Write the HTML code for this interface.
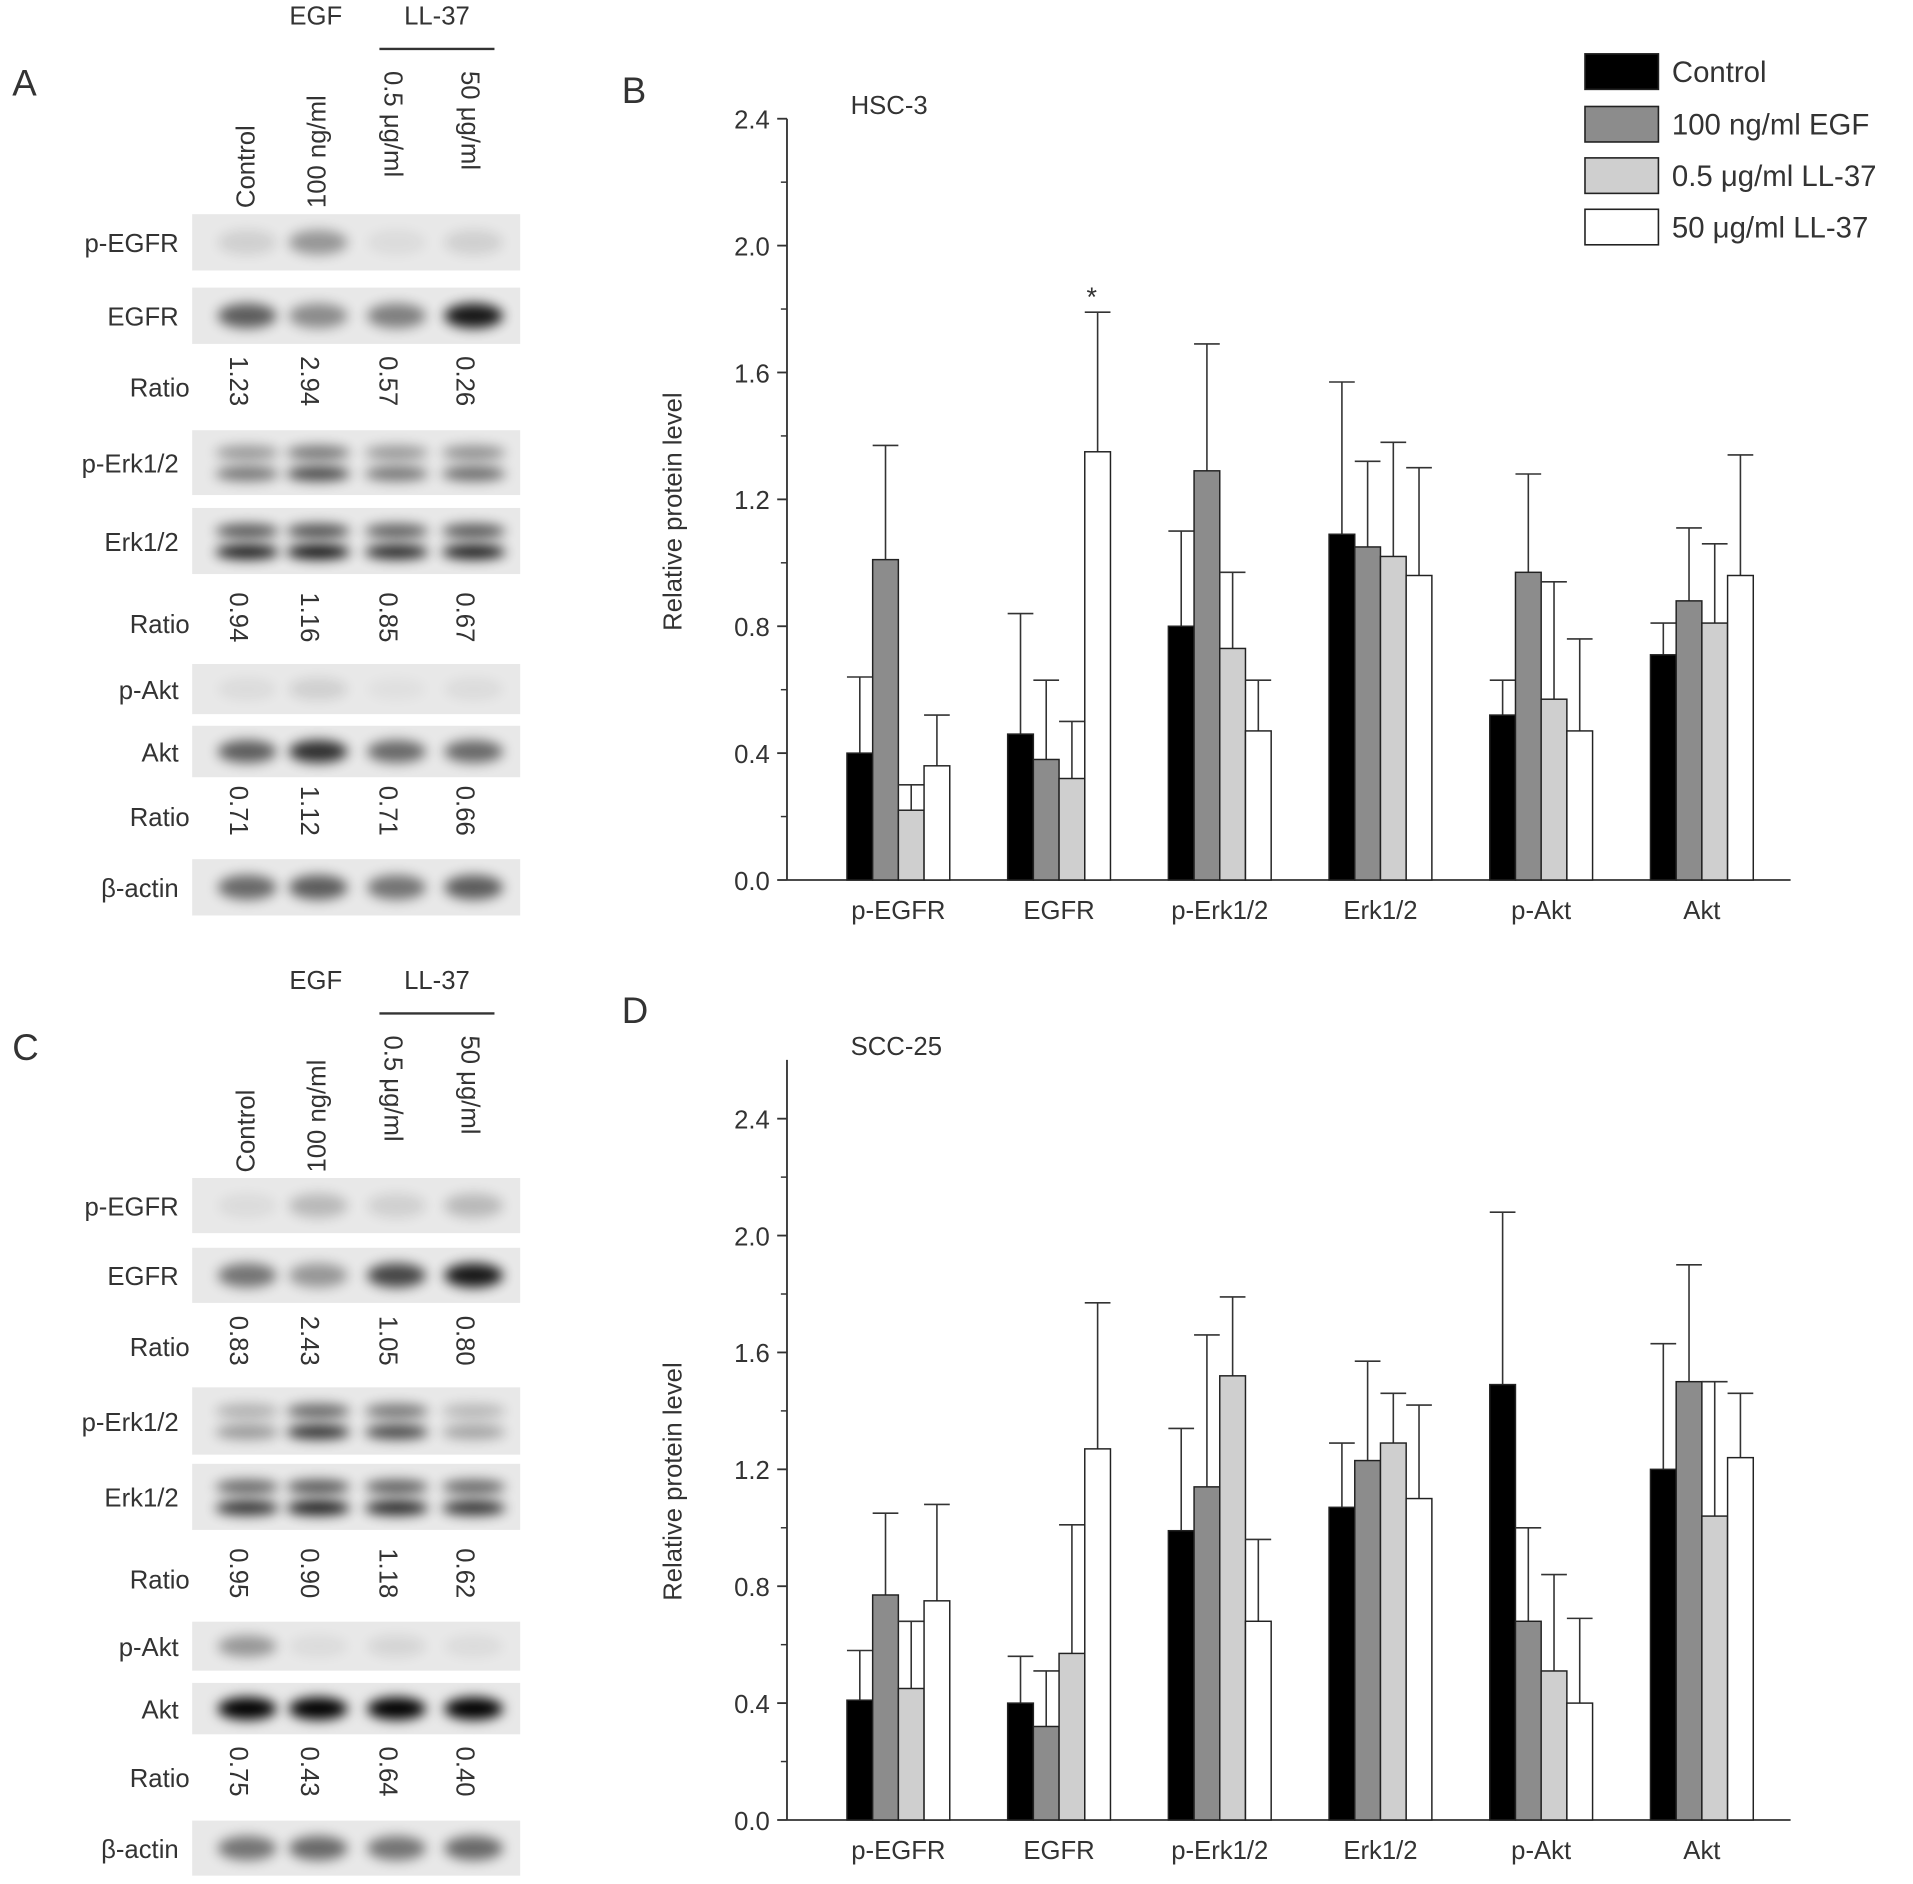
<!DOCTYPE html>
<html><head><meta charset="utf-8"><style>
html,body{margin:0;padding:0;background:#fff}
svg{display:block}
text{font-family:"Liberation Sans",sans-serif;fill:#333}
</style></head><body>
<svg id="fig" width="1913" height="1884" viewBox="0 0 1563 1539.3" preserveAspectRatio="none" xmlns="http://www.w3.org/2000/svg">
<defs><filter id="bl" x="-50%" y="-100%" width="200%" height="300%"><feGaussianBlur stdDeviation="5"/></filter></defs>
<g id="blots"></g>
<g id="chartB"></g>
<g id="chartD"></g>
<g id="legend"></g>
</svg>
<script>
const NS="http://www.w3.org/2000/svg";
const categories=["p-EGFR","EGFR","p-Erk1/2","Erk1/2","p-Akt","Akt"];
const seriesNames=["Control","100 ng/ml EGF","0.5 μg/ml LL-37","50 μg/ml LL-37"];
const seriesFill=["#000","#8c8c8c","#cfcfcf","#fff"];
const yTicks=[0.0,0.4,0.8,1.2,1.6,2.0,2.4];
// HSC-3 values
const hscControl=[0.40,0.46,0.80,1.09,0.52,0.71];
const hscEGF=[1.01,0.38,1.29,1.05,0.97,0.88];
const hscLL05=[0.22,0.32,0.73,1.02,0.57,0.81];
const hscLL50=[0.36,1.35,0.47,0.96,0.47,0.96];
const hscErrControl=[0.64,0.84,1.10,1.57,0.63,0.81];
const hscErrEGF=[1.37,0.63,1.69,1.32,1.28,1.11];
const hscErrLL05=[0.30,0.50,0.97,1.38,0.94,1.06];
const hscErrLL50=[0.52,1.79,0.63,1.30,0.76,1.34];
// SCC-25
const sccControl=[0.41,0.40,0.99,1.07,1.49,1.20];
const sccEGF=[0.77,0.32,1.14,1.23,0.68,1.50];
const sccLL05=[0.45,0.57,1.52,1.29,0.51,1.04];
const sccLL50=[0.75,1.27,0.68,1.10,0.40,1.24];
const sccErrControl=[0.58,0.56,1.34,1.29,2.08,1.63];
const sccErrEGF=[1.05,0.51,1.66,1.57,1.00,1.90];
const sccErrLL05=[0.68,1.01,1.79,1.46,0.84,1.50];
const sccErrLL50=[1.08,1.77,0.96,1.42,0.69,1.46];
// Blot ratios
const ratiosA=[["1.23","2.94","0.57","0.26"],["0.94","1.16","0.85","0.67"],["0.71","1.12","0.71","0.66"]];
const ratiosC=[["0.83","2.43","1.05","0.80"],["0.95","0.90","1.18","0.62"],["0.75","0.43","0.64","0.40"]];

function el(tag,attrs,parent,txt){const e=document.createElementNS(NS,tag);for(const k in attrs)e.setAttribute(k,attrs[k]);if(txt!==undefined)e.textContent=txt;parent.appendChild(e);return e;}

function chart(gid,title,y0,yTop,axisTop,vals,errs,letter,letterY,titleY){
  const g=document.getElementById(gid);
  
  
  const x0=643,x1=1463;
  const yS=v=>y0-(v/2.4)*(y0-yTop);
  const gx=i=>692+i*131.3;
  el('text',{x:508,y:letterY,'font-size':30,fill:'#222',},g,letter);
  el('text',{x:695,y:titleY,'font-size':21,},g,title);
  const yt=el('text',{x:0,y:0,'font-size':21,'text-anchor':'middle',transform:`translate(557,${(y0+yTop)/2+10}) rotate(-90)`},g,'Relative protein level');
  
  
  for(const t of yTicks){
    const y=yS(t);
    el('line',{x1:x0-8,x2:x0,y1:y,y2:y,stroke:'#333','stroke-width':1.5},g);
    const tl=el('text',{x:x0-14,y:y+8,'font-size':21,'text-anchor':'end'},g,t.toFixed(1));
    
    
    if(t<2.4){const ym=yS(t+0.2);el('line',{x1:x0-5,x2:x0,y1:ym,y2:ym,stroke:'#333','stroke-width':1.2},g);}
  }
  el('line',{x1:x0,x2:x0,y1:axisTop,y2:y0,stroke:'#333','stroke-width':1.5},g);
  el('line',{x1:x0,x2:x1,y1:y0,y2:y0,stroke:'#333','stroke-width':1.5},g);
  categories.forEach((c,i)=>{
    const cl=el('text',{x:gx(i)+42,y:y0+32,'font-size':21,'text-anchor':'middle'},g,c);
    
    
    for(let s=0;s<4;s++){
      const bx=gx(i)+s*21,v=vals[s][i],e=errs[s][i];
      const ex=bx+10.5;
      el('line',{x1:ex,x2:ex,y1:yS(v),y2:yS(e),stroke:'#333','stroke-width':1.3},g);
      el('line',{x1:bx,x2:bx+21,y1:yS(e),y2:yS(e),stroke:'#333','stroke-width':1.3},g);
      const r=el('rect',{x:bx,y:yS(v),width:21,height:y0-yS(v),fill:seriesFill[s],stroke:'#222','stroke-width':1.2},g);
      
      
    }
  });
}
chart('chartB','HSC-3',719,97,97,[hscControl,hscEGF,hscLL05,hscLL50],[hscErrControl,hscErrEGF,hscErrLL05,hscErrLL50],'B',84,93);
chart('chartD','SCC-25',1487,914,866,[sccControl,sccEGF,sccLL05,sccLL50],[sccErrControl,sccErrEGF,sccErrLL05,sccErrLL50],'D',836,862);
{const g=document.getElementById('chartB');const s=el('text',{x:892,y:250,'font-size':22,'text-anchor':'middle'},g,'*');}

{const g=document.getElementById('legend');const ys=[44,87,129,171];
seriesNames.forEach((n,i)=>{
  const r=el('rect',{x:1295,y:ys[i],width:60,height:29,fill:seriesFill[i],stroke:'#222','stroke-width':1.3},g);
  
  
  const t=el('text',{x:1366,y:ys[i]+23,'font-size':24},g,n);
  
  
});}

const cols=[200,258,322,385];
function blotPanel(letter,top,rows,ratios,intens){
  const g=document.getElementById('blots');
  const pg=el('g',{},g);
  
  
  el('text',{x:10,y:top+78,'font-size':30,fill:'#222'},pg,letter);
  el('text',{x:258,y:top+20,'font-size':21,'text-anchor':'middle'},pg,'EGF');
  el('text',{x:357,y:top+20,'font-size':21,'text-anchor':'middle'},pg,'LL-37');
  el('line',{x1:310,x2:404,y1:top+40,y2:top+40,stroke:'#333','stroke-width':2},pg);
  const hdr=['Control','100 ng/ml','0.5 μg/ml','50 μg/ml'];
  hdr.forEach((h,i)=>{
    if(i<2) el('text',{x:0,y:0,'font-size':21,transform:`translate(${cols[i]+8},${top+170}) rotate(-90)`},pg,h);
    else el('text',{x:0,y:0,'font-size':21,transform:`translate(${cols[i]-8},${top+58}) rotate(90)`},pg,h);
  });
  let ri=0;
  rows.forEach((r,k)=>{
    if(r.label==='Ratio'){
      el('text',{x:155,y:r.y+8,'font-size':21,'text-anchor':'end'},pg,'Ratio');
      ratios[ri].forEach((v,i)=>el('text',{x:0,y:0,'font-size':21,transform:`translate(${cols[i]-12},${r.y-25}) rotate(90)`},pg,v));
      ri++;
    } else {
      el('text',{x:146,y:r.y+8,'font-size':21,'text-anchor':'end'},pg,r.label);
      el('rect',{x:157,y:r.y-r.h/2,width:268,height:r.h,fill:'#e8e8e8'},pg);
      const iv=intens[k];
      cols.forEach((c,i)=>{
        const a=iv[i];
        if(r.double){
          el('ellipse',{cx:c+2,cy:r.y-8,rx:26,ry:6,fill:'#000',opacity:a*0.7,filter:'url(#bl)'},pg);
          el('ellipse',{cx:c+2,cy:r.y+9,rx:26,ry:6,fill:'#000',opacity:a,filter:'url(#bl)'},pg);
        } else el('ellipse',{cx:c+2,cy:r.y,rx:24,ry:r.h*0.22,fill:'#000',opacity:a,filter:'url(#bl)'},pg);
      });
    }
  });
}
blotPanel('A',0,[
 {label:'p-EGFR',y:198,h:46},{label:'EGFR',y:258,h:46},{label:'Ratio',y:316},
 {label:'p-Erk1/2',y:378,h:53,double:true},{label:'Erk1/2',y:442,h:54,double:true},{label:'Ratio',y:509},
 {label:'p-Akt',y:563,h:41},{label:'Akt',y:614,h:42},{label:'Ratio',y:667},{label:'β-actin',y:725,h:46}],
 ratiosA,[[0.1,0.35,0.05,0.1],[0.6,0.4,0.45,0.9],null,[0.5,0.7,0.5,0.55],[0.9,0.95,0.85,0.9],null,[0.05,0.1,0.03,0.05],[0.6,0.8,0.55,0.55],null,[0.55,0.6,0.5,0.6]]);
blotPanel('C',788,[
 {label:'p-EGFR',y:985,h:45},{label:'EGFR',y:1042,h:45},{label:'Ratio',y:1100},
 {label:'p-Erk1/2',y:1161,h:55,double:true},{label:'Erk1/2',y:1223,h:54,double:true},{label:'Ratio',y:1290},
 {label:'p-Akt',y:1345,h:40},{label:'Akt',y:1396,h:42},{label:'Ratio',y:1452},{label:'β-actin',y:1510,h:45}],
 ratiosC,[[0.05,0.2,0.1,0.2],[0.5,0.35,0.7,0.9],null,[0.35,0.8,0.7,0.3],[0.8,0.9,0.85,0.8],null,[0.35,0.05,0.08,0.05],[1,1,1,1],null,[0.5,0.55,0.5,0.55]]);
</script>
</body></html>
